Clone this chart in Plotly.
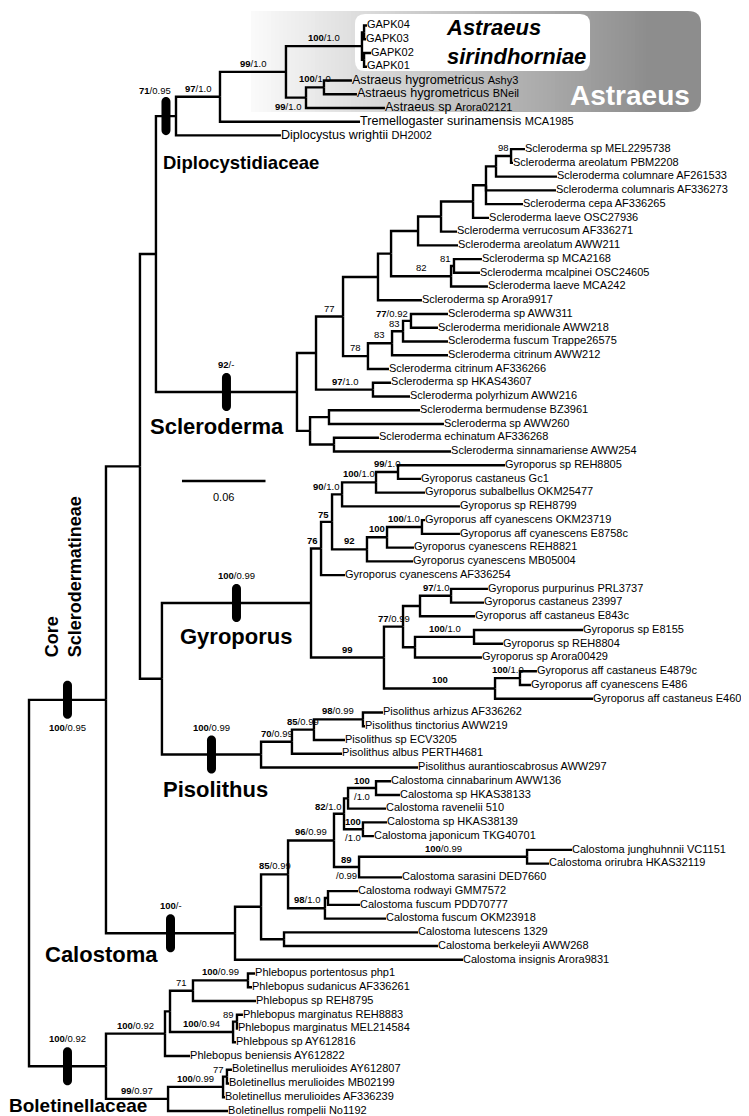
import plotly.graph_objects as go

# ---------------------------------------------------------------- data
# Internal nodes: id, parent id, depth from root (substitutions / site)
NODE_ID = [
    "root", "core", "bolet", "nA", "calo", "nB", "nC",
    "diplo", "n97", "n99", "gapk", "gapkA", "gapkB", "astr99", "astr100",
    "sclero", "s308", "s335", "s370", "s383", "s410", "s433", "s465", "s478", "s488", "s503",
    "s443", "s445", "s360", "s384", "s395", "s403", "s365", "s302", "s321", "s326",
    "gyro", "g313", "g324", "g334", "g368", "g390", "g359", "g379", "g414",
    "g376", "g395", "g412", "g443", "g407", "g466", "g487", "g512",
    "piso", "p284", "p306", "p355",
    "c253", "c280", "c326", "c336", "c340", "c368", "c355", "c351", "c519", "c317", "c320", "c276",
    "b157", "b162", "b185", "b240", "b225", "b229", "b160", "b215", "b219",
]
NODE_PARENT = [
    None, "root", "root", "core", "core", "nA", "nA",
    "nB", "diplo", "n97", "n99", "gapk", "gapk", "n99", "astr99",
    "nB", "sclero", "s308", "s335", "s370", "s383", "s410", "s433", "s465", "s478", "s488",
    "s383", "s443", "s335", "s360", "s384", "s395", "s308", "sclero", "s302", "s302",
    "nC", "gyro", "g313", "g324", "g334", "g368", "g324", "g359", "g379",
    "gyro", "g376", "g395", "g412", "g395", "g407", "g376", "g487",
    "nC", "piso", "p284", "p306",
    "calo", "c253", "c280", "c326", "c336", "c340", "c336", "c326", "c351", "c280", "c317", "c253",
    "bolet", "b157", "b162", "b185", "b162", "b225", "bolet", "b160", "b215",
]
NODE_DEPTH = [
    0.0, 0.0553, 0.0553, 0.0797, 0.1480, 0.0912, 0.0955,
    0.1056, 0.1372, 0.1846, 0.2392, 0.2407, 0.2407, 0.1990, 0.2119,
    0.1925, 0.2062, 0.2256, 0.2507, 0.2601, 0.2795, 0.2960, 0.3190, 0.3283, 0.3355, 0.3463,
    0.3032, 0.3053, 0.2435, 0.2608, 0.2687, 0.2744, 0.2471, 0.2019, 0.2155, 0.2191,
    0.2026, 0.2098, 0.2177, 0.2249, 0.2493, 0.2651, 0.2428, 0.2572, 0.2823,
    0.2550, 0.2687, 0.2809, 0.3032, 0.2773, 0.3197, 0.3348, 0.3527,
    0.1667, 0.1889, 0.2047, 0.2399,
    0.1667, 0.1861, 0.2191, 0.2263, 0.2292, 0.2493, 0.2399, 0.2371, 0.3578, 0.2126, 0.2148, 0.1832,
    0.0977, 0.1013, 0.1178, 0.1573, 0.1466, 0.1494, 0.0999, 0.1394, 0.1422,
]

# Terminal taxa, top to bottom
TAXON = [
    "GAPK04", "GAPK03", "GAPK02", "GAPK01",
    "Astraeus hygrometricus", "Astraeus hygrometricus", "Astraeus sp",
    "Tremellogaster surinamensis", "Diplocystus wrightii",
    "Scleroderma sp", "Scleroderma areolatum", "Scleroderma columnare", "Scleroderma columnaris",
    "Scleroderma cepa", "Scleroderma laeve", "Scleroderma verrucosum", "Scleroderma areolatum",
    "Scleroderma sp", "Scleroderma mcalpinei", "Scleroderma laeve", "Scleroderma sp",
    "Scleroderma sp", "Scleroderma meridionale", "Scleroderma fuscum", "Scleroderma citrinum",
    "Scleroderma citrinum", "Scleroderma sp", "Scleroderma polyrhizum", "Scleroderma bermudense",
    "Scleroderma sp", "Scleroderma echinatum", "Scleroderma sinnamariense",
    "Gyroporus sp", "Gyroporus castaneus", "Gyroporus subalbellus", "Gyroporus sp",
    "Gyroporus aff cyanescens", "Gyroporus aff cyanescens", "Gyroporus cyanescens",
    "Gyroporus cyanescens", "Gyroporus cyanescens", "Gyroporus purpurinus", "Gyroporus castaneus",
    "Gyroporus aff castaneus", "Gyroporus sp", "Gyroporus sp", "Gyroporus sp",
    "Gyroporus aff castaneus", "Gyroporus aff cyanescens", "Gyroporus aff castaneus",
    "Pisolithus arhizus", "Pisolithus tinctorius", "Pisolithus sp", "Pisolithus albus",
    "Pisolithus aurantioscabrosus",
    "Calostoma cinnabarinum", "Calostoma sp", "Calostoma ravenelii", "Calostoma sp",
    "Calostoma japonicum", "Calostoma junghuhnnii", "Calostoma orirubra", "Calostoma sarasini",
    "Calostoma rodwayi", "Calostoma fuscum", "Calostoma fuscum", "Calostoma lutescens",
    "Calostoma berkeleyii", "Calostoma insignis",
    "Phlebopus portentosus", "Phlebopus sudanicus", "Phlebopus sp", "Phlebopus marginatus",
    "Phlebopus marginatus", "Phlebpous sp", "Phlebopus beniensis",
    "Boletinellus merulioides", "Boletinellus merulioides", "Boletinellus merulioides",
    "Boletinellus rompelii",
]
VOUCHER = [
    "", "", "", "",
    "Ashy3", "BNeil", "Arora02121", "MCA1985", "DH2002",
    "MEL2295738", "PBM2208", "AF261533", "AF336273", "AF336265", "OSC27936", "AF336271", "AWW211",
    "MCA2168", "OSC24605", "MCA242", "Arora9917", "AWW311", "AWW218", "Trappe26575", "AWW212",
    "AF336266", "HKAS43607", "AWW216", "BZ3961", "AWW260", "AF336268", "AWW254",
    "REH8805", "Gc1", "OKM25477", "REH8799", "OKM23719", "E8758c", "REH8821", "MB05004",
    "AF336254", "PRL3737", "23997", "E843c", "E8155", "REH8804", "Arora00429", "E4879c",
    "E486", "E4600",
    "AF336262", "AWW219", "ECV3205", "PERTH4681", "AWW297",
    "AWW136", "HKAS38133", "510", "HKAS38139", "TKG40701", "VC1151", "HKAS32119", "DED7660",
    "GMM7572", "PDD70777", "OKM23918", "1329", "AWW268", "Arora9831",
    "php1", "AF336261", "REH8795", "REH8883", "MEL214584", "AY612816", "AY612822",
    "AY612807", "MB02199", "AF336239", "No1192",
]
TAXON_PARENT = [
    "gapkA", "gapkA", "gapkB", "gapkB", "astr100", "astr100", "astr99", "n97", "diplo",
    "s503", "s503", "s488", "s478", "s478", "s465", "s433", "s410",
    "s445", "s445", "s443", "s370", "s403", "s403", "s395", "s384",
    "s360", "s365", "s365", "s321", "s321", "s326", "s326",
    "g390", "g390", "g368", "g334", "g414", "g414", "g379", "g359",
    "g313", "g443", "g443", "g412", "g466", "g466", "g407", "g512", "g512", "g487",
    "p355", "p355", "p306", "p284", "piso",
    "c368", "c368", "c340", "c355", "c355", "c519", "c519", "c351",
    "c320", "c320", "c317", "c276", "c276", "calo",
    "b240", "b240", "b185", "b229", "b229", "b225", "b157",
    "b219", "b219", "b215", "b160",
]
TAXON_DEPTH = [
    0.2428, 0.2421, 0.2457, 0.2428, 0.2320, 0.2356, 0.2557, 0.2378, 0.1810,
    0.3563, 0.3477, 0.3793, 0.3786, 0.3549, 0.3305, 0.3075, 0.3082,
    0.3254, 0.3240, 0.3297, 0.2823, 0.3010, 0.2938, 0.3010, 0.3010,
    0.2586, 0.2601, 0.2737, 0.2809, 0.2981, 0.2514, 0.3032,
    0.3420, 0.2816, 0.2845, 0.3096, 0.2845, 0.3096, 0.2766, 0.2759,
    0.2270, 0.3297, 0.3269, 0.3204, 0.3980, 0.3405, 0.3254, 0.3649, 0.3606, 0.4052,
    0.2543, 0.2414, 0.2270, 0.2249, 0.2795,
    0.2601, 0.2665, 0.2565, 0.2572, 0.2478, 0.3901, 0.3736, 0.2680,
    0.2364, 0.2378, 0.2565, 0.2795, 0.2938, 0.3118,
    0.1624, 0.1602, 0.1631, 0.1537, 0.1501, 0.1487, 0.1157,
    0.1458, 0.1437, 0.1408, 0.1430,
]

# Support values: bootstrap (ML) and Bayesian posterior probability
SUPPORT_BOOT = {
    "core": "100", "diplo": "71", "n97": "97", "n99": "99", "gapk": "100", "astr100": "100",
    "astr99": "99", "sclero": "92", "s503": "98", "s445": "81", "s443": "82", "s335": "77",
    "s360": "78", "s384": "83", "s395": "83", "s403": "77", "s365": "97",
    "gyro": "100", "g313": "76", "g324": "75", "g334": "90", "g368": "100", "g390": "99",
    "g359": "92", "g379": "100", "g414": "100", "g376": "99", "g395": "77", "g443": "97",
    "g466": "100", "g487": "100", "g512": "100",
    "piso": "100", "p284": "70", "p306": "85", "p355": "98",
    "calo": "100", "c280": "85", "c326": "96", "c336": "82", "c368": "100", "c355": "100",
    "c351": "89", "c519": "100", "c317": "98",
    "bolet": "100", "b157": "100", "b185": "71", "b240": "100", "b225": "100", "b229": "89",
    "b160": "99", "b215": "100", "b219": "77",
}
SUPPORT_PP = {
    "core": "0.95", "diplo": "0.95", "n97": "1.0", "n99": "1.0", "gapk": "1.0", "astr100": "1.0",
    "astr99": "1.0", "sclero": "-", "s403": "0.92", "s365": "1.0",
    "gyro": "0.99", "g334": "1.0", "g368": "1.0", "g390": "1.0", "g414": "1.0", "g395": "0.99",
    "g443": "1.0", "g466": "1.0", "g512": "1.0",
    "piso": "0.99", "p284": "0.99", "p306": "0.99", "p355": "0.99",
    "calo": "-", "c280": "0.99", "c326": "0.99", "c336": "1.0", "c368": "1.0", "c355": "1.0",
    "c351": "0.99", "c519": "0.99", "c317": "1.0",
    "bolet": "0.92", "b157": "0.92", "b240": "0.99", "b225": "0.94", "b160": "0.97", "b215": "0.99",
}
PLAIN_BOOT = {"s503", "s445", "s443", "s335", "s360", "s384", "s395", "b185", "b229", "b219"}

CLADE_NAME = {
    "core": "Core<br>Sclerodermatineae", "diplo": "Diplocystidiaceae", "sclero": "Scleroderma",
    "gyro": "Gyroporus", "piso": "Pisolithus", "calo": "Calostoma", "bolet": "Boletinellaceae",
}
SCALE_BAR_LEN = 0.06
SCALE_BAR_TEXT = "0.06"

# ---------------------------------------------------------------- style
W, H = 749, 1116
X_RANGE = [-0.01509, 0.52299]
Y_RANGE = [79.95, -1.274]
PX_X = W / (X_RANGE[1] - X_RANGE[0])
FONT = "Liberation Sans, Arial, Helvetica, sans-serif"
LW = 2.4

LARGE_ROWS = {4, 5, 6, 7, 8}
BELOW = {"astr99"}
SPLIT = {"c368", "c355", "c351"}
# clade label placement relative to bar: xanchor, xshift, yshift, size, angle
CLADE_STYLE = {
    "diplo": ("left", -5, -46, 18.5, 0),
    "sclero": ("center", -9, -35, 22, 0),
    "gyro": ("center", 0, -33, 22, 0),
    "piso": ("center", 4, -35, 22, 0),
    "calo": ("right", -11, -21, 22, 0),
    "bolet": ("center", 11, -39, 19, 0),
    "core": ("center", -4, 123, 18, -90),
}

# ---------------------------------------------------------------- tree layout
depth, parent, ypos = {}, {}, {}
for n, p, d in zip(NODE_ID, NODE_PARENT, NODE_DEPTH):
    depth[n], parent[n] = d, p
leaf_ids = []
for k, (p, d) in enumerate(zip(TAXON_PARENT, TAXON_DEPTH)):
    lid = "leaf%d" % k
    leaf_ids.append(lid)
    depth[lid], parent[lid], ypos[lid] = d, p, k
children = {}
for n, p in parent.items():
    if p is not None:
        children.setdefault(p, []).append(n)


def gety(n):
    if n not in ypos:
        ys = [gety(c) for c in children[n]]
        ypos[n] = (min(ys) + max(ys)) / 2.0
    return ypos[n]


gety("root")

bx, by = [], []
for n, p in parent.items():
    if p is None:
        continue
    bx += [depth[p], depth[p], depth[n], None]
    by += [ypos[p], ypos[n], ypos[n], None]

fig = go.Figure()
fig.add_trace(go.Scatter(x=bx, y=by, mode="lines", line=dict(color="black", width=LW),
                         hoverinfo="skip", showlegend=False))

# leaf labels (plotly itself leaves ~3 px before 'middle right' text)
texts, sizes = [], []
for k, (name, v) in enumerate(zip(TAXON, VOUCHER)):
    if k in LARGE_ROWS:
        texts.append('%s <span style="font-size:11px">%s</span>' % (name, v))
        sizes.append(12.6)
    else:
        texts.append(("%s %s" % (name, v)).strip())
        sizes.append(11)
fig.add_trace(go.Scatter(x=[depth[l] for l in leaf_ids], y=[ypos[l] for l in leaf_ids],
                         mode="text", text=texts, textposition="middle right",
                         textfont=dict(family=FONT, size=sizes, color="black"),
                         hoverinfo="skip", showlegend=False))

# scale bar
SCALE_X0, SCALE_Y = 0.1099, 33.15
fig.add_trace(go.Scatter(x=[SCALE_X0, SCALE_X0 + SCALE_BAR_LEN], y=[SCALE_Y, SCALE_Y], mode="lines",
                         line=dict(color="black", width=LW), hoverinfo="skip", showlegend=False))

ann = []
ann.append(dict(x=SCALE_X0 + SCALE_BAR_LEN / 2, y=SCALE_Y, text=SCALE_BAR_TEXT, showarrow=False,
                yshift=-16, font=dict(family=FONT, size=11, color="black")))

shapes = []
SF = dict(family=FONT, size=9.5, color="black")
for n in NODE_ID:
    if n not in SUPPORT_BOOT:
        continue
    bs = SUPPORT_BOOT[n]
    pp = SUPPORT_PP.get(n, "")
    bs_txt = bs if n in PLAIN_BOOT else "<b>%s</b>" % bs
    full = bs_txt + ("/" + pp if pp else "")
    p = parent[n]
    xm = (depth[p] + depth[n]) / 2.0
    blen = (depth[n] - depth[p]) * PX_X
    y = ypos[n]
    if n in CLADE_NAME:
        # support bar
        shapes.append(dict(type="path", xref="x", yref="y", xsizemode="pixel", ysizemode="pixel",
                           xanchor=xm, yanchor=y,
                           path="M -4.5 -14 L -4.5 14 C -4.5 20.7 4.5 20.7 4.5 14 L 4.5 -14 "
                                "C 4.5 -20.7 -4.5 -20.7 -4.5 -14 Z",
                           fillcolor="black", line=dict(width=0), layer="above"))
        if n == "core":
            ann.append(dict(x=xm, y=y, text=full, showarrow=False, yanchor="top", yshift=-20, font=SF))
        elif n == "diplo":
            ann.append(dict(x=xm, y=y, text=full, showarrow=False, xanchor="right", xshift=7,
                            yanchor="bottom", yshift=18, font=SF))
        else:
            ann.append(dict(x=xm, y=y, text=full, showarrow=False, yanchor="bottom", yshift=20, font=SF))
        xa, xs, ys, sz, ang = CLADE_STYLE[n]
        ann.append(dict(x=xm, y=y, text="<b>%s</b>" % CLADE_NAME[n], showarrow=False, xanchor=xa,
                        yanchor="middle", xshift=xs, yshift=ys, textangle=ang, align="left",
                        font=dict(family=FONT, size=sz, color="black")))
    elif n in SPLIT:
        ann.append(dict(x=xm, y=y, text=bs_txt, showarrow=False, yanchor="bottom", font=SF))
        ann.append(dict(x=xm, y=y, text="/" + pp, showarrow=False, yanchor="top", yshift=-1, font=SF))
    elif n in BELOW:
        ann.append(dict(x=xm, y=y, text=full, showarrow=False, yanchor="top", xshift=-8, yshift=-1, font=SF))
    elif blen < 14:
        ann.append(dict(x=depth[n], y=y, text=full, showarrow=False, xanchor="right", xshift=-1,
                        yanchor="bottom", font=SF))
    else:
        ann.append(dict(x=xm, y=y, text=full, showarrow=False, yanchor="bottom", yshift=1, font=SF))

# ---------------------------------------------------------------- Astraeus highlight
def fx(px):
    return px / W


def fy(py):
    return 1 - py / H


BOX_L, BOX_R, BOX_T, BOX_B = 243, 693, 3, 104
step = 4
x = BOX_L
while x < 640:
    v = int(round(250 - (x - BOX_L) * 0.275))
    shapes.append(dict(type="rect", xref="paper", yref="paper", x0=fx(x), x1=fx(x + step + 0.6),
                       y0=fy(BOX_B), y1=fy(BOX_T), fillcolor="rgb(%d,%d,%d)" % (v, v, v),
                       line=dict(width=0), layer="below"))
    x += step


def rpath(l, r, t, b, rad, left_round=True):
    pts = []
    if left_round:
        pts.append("M %f %f" % (fx(l), fy(t + rad)))
        pts.append("Q %f %f %f %f" % (fx(l), fy(t), fx(l + rad), fy(t)))
    else:
        pts.append("M %f %f" % (fx(l), fy(t)))
    pts.append("L %f %f" % (fx(r - rad), fy(t)))
    pts.append("Q %f %f %f %f" % (fx(r), fy(t), fx(r), fy(t + rad)))
    pts.append("L %f %f" % (fx(r), fy(b - rad)))
    pts.append("Q %f %f %f %f" % (fx(r), fy(b), fx(r - rad), fy(b)))
    if left_round:
        pts.append("L %f %f" % (fx(l + rad), fy(b)))
        pts.append("Q %f %f %f %f" % (fx(l), fy(b), fx(l), fy(b - rad)))
    else:
        pts.append("L %f %f" % (fx(l), fy(b)))
    return " ".join(pts) + " Z"


v_end = int(round(250 - (640 - BOX_L) * 0.275))
shapes.append(dict(type="path", xref="paper", yref="paper", path=rpath(638, BOX_R, BOX_T, BOX_B, 13, False),
                   fillcolor="rgb(%d,%d,%d)" % (v_end, v_end, v_end), line=dict(width=0), layer="below"))
shapes.append(dict(type="path", xref="paper", yref="paper", path=rpath(347, 582, 6, 63, 10, True),
                   fillcolor="white", line=dict(width=0), layer="below"))

ann.append(dict(xref="paper", yref="paper", x=fx(436), y=fy(34), xanchor="left", yanchor="middle",
                text="<b><i>Astraeus<br>sirindhorniae</i></b>", align="left", showarrow=False,
                font=dict(family=FONT, size=22, color="black")))
ann.append(dict(xref="paper", yref="paper", x=fx(684), y=fy(88), xanchor="right", yanchor="middle",
                text="<b>Astraeus</b>", showarrow=False, font=dict(family=FONT, size=28, color="white")))

fig.update_layout(
    width=W, height=H, margin=dict(l=0, r=0, t=0, b=0),
    paper_bgcolor="white", plot_bgcolor="white",
    xaxis=dict(range=X_RANGE, visible=False, fixedrange=True),
    yaxis=dict(range=Y_RANGE, visible=False, fixedrange=True),
    shapes=shapes, annotations=ann, showlegend=False, hovermode=False,
)
fig.write_html("out.html")
